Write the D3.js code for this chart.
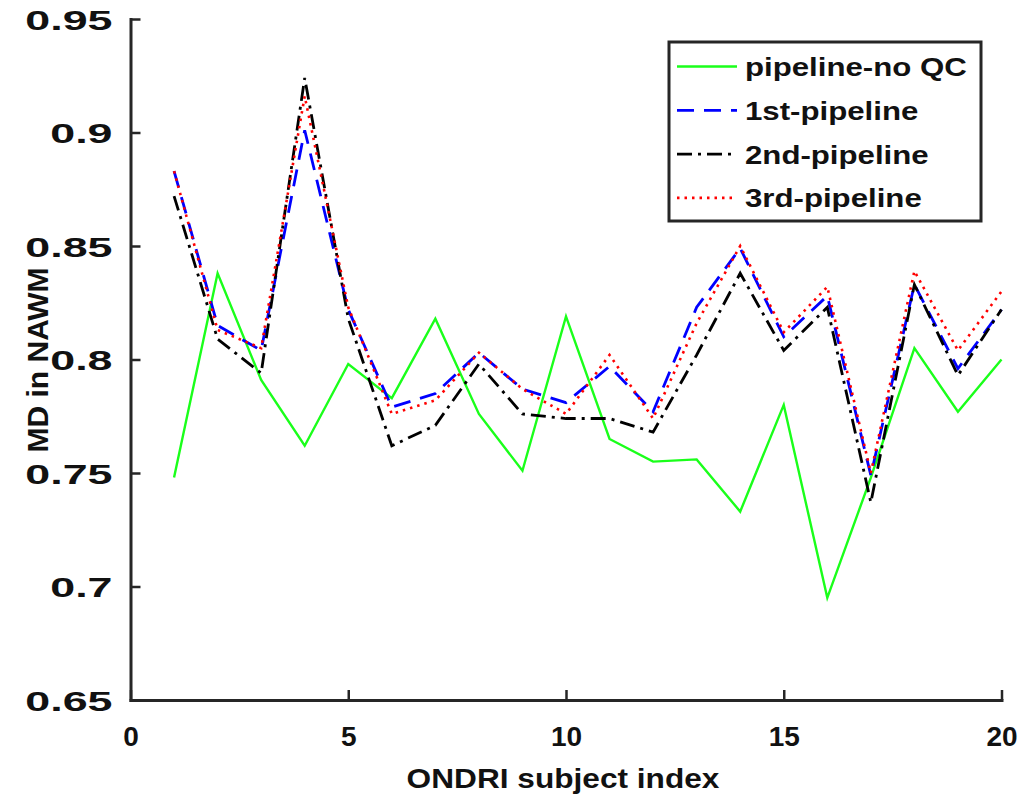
<!DOCTYPE html>
<html>
<head>
<meta charset="utf-8">
<script src="https://cdn.jsdelivr.net/npm/d3@7"></script>
<style>
  html, body { margin: 0; padding: 0; background: #fff; }
  svg { display: block; font-family: "Liberation Sans", Arial, Helvetica, sans-serif; font-weight: bold; }
</style>
</head>
<body>
<svg id="chart" width="1035" height="797"></svg>
<script>
// Subject indices (x) and mean diffusivity in normal-appearing white matter per pipeline
const subjects = d3.range(1, 21);
const noQC   = [0.748, 0.838, 0.791, 0.762, 0.798, 0.783, 0.818, 0.776, 0.751, 0.819,
                0.765, 0.755, 0.756, 0.733, 0.780, 0.695, 0.748, 0.805, 0.777, 0.800];
const first  = [0.883, 0.815, 0.804, 0.901, 0.822, 0.779, 0.785, 0.803, 0.787, 0.781,
                0.797, 0.777, 0.823, 0.849, 0.810, 0.828, 0.749, 0.833, 0.796, 0.822];
const second = [0.872, 0.809, 0.794, 0.924, 0.818, 0.762, 0.771, 0.798, 0.776, 0.774,
                0.774, 0.768, 0.802, 0.838, 0.804, 0.823, 0.737, 0.833, 0.793, 0.822];
const third  = [0.883, 0.813, 0.805, 0.916, 0.823, 0.776, 0.782, 0.803, 0.787, 0.776,
                0.802, 0.774, 0.816, 0.850, 0.812, 0.832, 0.750, 0.839, 0.804, 0.830];
const seriesNames = ["pipeline-no QC", "1st-pipeline", "2nd-pipeline", "3rd-pipeline"];
const xTicks = [0, 5, 10, 15, 20];
const yTicks = [0.65, 0.7, 0.75, 0.8, 0.85, 0.9, 0.95];

const styles = [
  { color: "#1aff1a", width: 2.4, dash: null },
  { color: "#0000ff", width: 2.8, dash: "17,10" },
  { color: "#000000", width: 2.8, dash: "15,6,3,6" },
  { color: "#ff0000", width: 2.6, dash: "2.5,5" }
];
const seriesData = [noQC, first, second, third];

const svg = d3.select("#chart");
const axisColor = "#262626";

const x = d3.scaleLinear().domain([0, 20]).range([130.5, 1001.5]);
const y = d3.scaleLinear().domain([0.65, 0.95]).range([700, 19]);

// lines
const line = d3.line().x((d, i) => x(subjects[i])).y(d => y(d));
const plot = svg.append("g");
seriesData.forEach((vals, k) => {
  plot.append("path")
    .datum(vals)
    .attr("d", line)
    .attr("fill", "none")
    .attr("stroke", styles[k].color)
    .attr("stroke-width", styles[k].width)
    .attr("stroke-dasharray", styles[k].dash)
    .attr("stroke-linejoin", "miter");
});

// x axis
const gx = svg.append("g")
  .attr("transform", `translate(0,${y(0.65)})`)
  .call(d3.axisBottom(x).tickValues(xTicks).tickSizeInner(-10).tickSizeOuter(0).tickFormat(d3.format("d")));
gx.select(".domain").attr("stroke", axisColor).attr("stroke-width", 3).attr("stroke-linecap", "square");
gx.selectAll(".tick line").attr("stroke", axisColor).attr("stroke-width", 2.5);
gx.selectAll(".tick text")
  .attr("fill", "#111")
  .attr("font-size", 28)
  .attr("font-weight", "bold")
  .attr("y", 0)
  .attr("dy", null)
  .attr("transform", "translate(0,46)")
  .attr("text-anchor", "middle");

// y axis
const gy = svg.append("g")
  .attr("transform", `translate(${x(0)},0)`)
  .call(d3.axisLeft(y).tickValues(yTicks).tickSizeInner(-10).tickSizeOuter(0).tickFormat(d => d3.format("")(+d.toFixed(2))));
gy.select(".domain").attr("stroke", axisColor).attr("stroke-width", 3).attr("stroke-linecap", "square");
gy.selectAll(".tick line").attr("stroke", axisColor).attr("stroke-width", 2.5);
gy.selectAll(".tick text")
  .attr("fill", "#111")
  .attr("font-size", 28)
  .attr("font-weight", "bold")
  .attr("x", 0)
  .attr("dy", "0.36em")
  .attr("text-anchor", "end")
  .attr("transform", "translate(-18,0) scale(1.6,1)");

// axis titles
svg.append("text")
  .attr("transform", `translate(${(x(0) + x(20)) / 2 - 3},788) scale(1.13,1)`)
  .attr("text-anchor", "middle")
  .attr("font-size", 28)
  .attr("fill", "#111")
  .text("ONDRI subject index");

svg.append("text")
  .attr("transform", "translate(48,360) rotate(-90)")
  .attr("text-anchor", "middle")
  .attr("font-size", 30)
  .attr("fill", "#111")
  .text("MD in NAWM");

// legend
const legend = svg.append("g");
legend.append("rect")
  .attr("x", 669).attr("y", 42).attr("width", 312).attr("height", 179)
  .attr("fill", "#fff").attr("stroke", axisColor).attr("stroke-width", 3);
seriesNames.forEach((name, k) => {
  const cy = 66.5 + k * 43.8;
  legend.append("line")
    .attr("x1", 677).attr("x2", 737).attr("y1", cy).attr("y2", cy)
    .attr("stroke", styles[k].color)
    .attr("stroke-width", styles[k].width)
    .attr("stroke-dasharray", styles[k].dash);
  legend.append("text")
    .attr("transform", `translate(745,${cy + 9.5}) scale(1.2,1)`)
    .attr("font-size", 26)
    .attr("fill", "#111")
    .text(name);
});
</script>
</body>
</html>
